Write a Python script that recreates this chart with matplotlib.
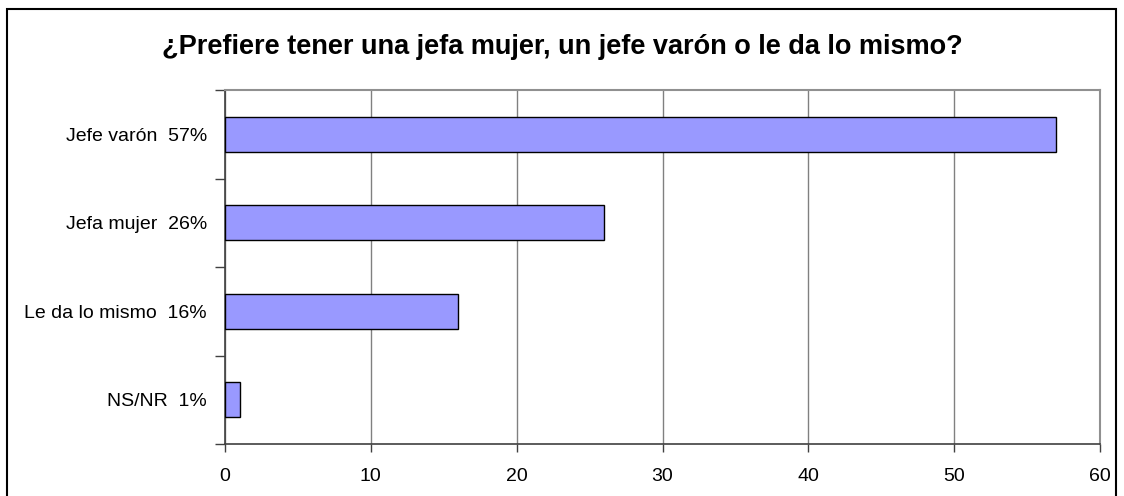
import matplotlib
matplotlib.use("Agg")
import matplotlib.pyplot as plt
from matplotlib.patches import Rectangle

categories = ["Jefe varón  57%", "Jefa mujer  26%", "Le da lo mismo  16%", "NS/NR  1%"]
values = [57, 26, 16, 1]
x_ticks = [0, 10, 20, 30, 40, 50, 60]
title = "¿Prefiere tener una jefa mujer, un jefe varón o le da lo mismo?"

plt.rcParams['font.family'] = ['Liberation Sans', 'DejaVu Sans']

fig = plt.figure(figsize=(11.24, 4.96), dpi=100)
W, H = 1124, 496

# outer chart border (bottom edge falls outside the image)
fig.patches.append(Rectangle((7 / W, -0.05), (1116 - 7) / W, (496 - 9) / H + 0.05,
                             transform=fig.transFigure, fill=False,
                             edgecolor='black', linewidth=1.5, clip_on=False))

ax = fig.add_axes([225 / W, 1 - 444 / H, (1100 - 225) / W, (444 - 90) / H])

pos = list(range(len(categories)))
ax.barh(pos, values, height=0.4, color='#9999FF', edgecolor='black', linewidth=1.0, zorder=3)

ax.set_xlim(x_ticks[0], x_ticks[-1])
ax.set_ylim(len(categories) - 0.5, -0.5)
ax.set_xticks(x_ticks)
ax.set_xticklabels([str(t) for t in x_ticks], fontsize=14)
ax.xaxis.grid(True, color='#808080', linewidth=1.0, zorder=0)

ax.set_yticks([i - 0.5 for i in range(len(categories) + 1)])
ax.set_yticklabels([])
ax.set_yticks(pos, minor=True)
ax.set_yticklabels(categories, minor=True, fontsize=14)
ax.tick_params(axis='y', which='minor', length=0, pad=13)
ax.tick_params(axis='y', which='major', length=7, width=1, color='#404040', direction='out')
ax.tick_params(axis='x', length=6, width=1, color='#404040', direction='out', pad=11)

for s in ['left', 'bottom']:
    ax.spines[s].set_color('#404040')
    ax.spines[s].set_linewidth(1.2)
for s in ['top', 'right']:
    ax.spines[s].set_color('#909090')
    ax.spines[s].set_linewidth(1.5)

fig.text(562 / W, 1 - 47 / H, title, ha='center', va='center',
         fontsize=19.5, fontweight='bold')

fig.savefig('out.png', dpi=100)
